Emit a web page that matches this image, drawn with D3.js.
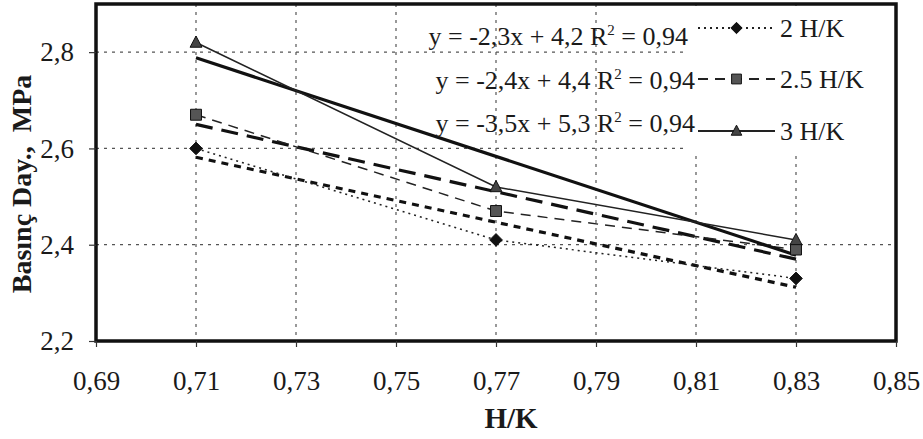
<!DOCTYPE html>
<html>
<head>
<meta charset="utf-8">
<script src="https://cdn.jsdelivr.net/npm/d3@7"></script>
<style>
  body { margin: 0; background: #fff; }
  svg { display: block; font-family: "Liberation Serif", "Times New Roman", serif; }
</style>
</head>
<body>
<svg id="chart" width="923" height="439"></svg>
<script>
// values
const hkValues = [0.71, 0.77, 0.83];
const seriesNames = ["2 H/K", "2.5 H/K", "3 H/K"];
const pressure2 = [2.60, 2.41, 2.33];
const pressure25 = [2.67, 2.47, 2.39];
const pressure3 = [2.82, 2.52, 2.41];
const equationTexts = ["y = -2,3x + 4,2 R", "y = -2,4x + 4,4 R", "y = -3,5x + 5,3 R"];
const rSquaredTexts = ["0,94", "0,94", "0,94"];
const xTicks = [0.69, 0.71, 0.73, 0.75, 0.77, 0.79, 0.81, 0.83, 0.85];
const yTicks = [2.2, 2.4, 2.6, 2.8];

const width = 923, height = 439;
const plot = { left: 96, right: 896, top: 4, bottom: 341 };

const svg = d3.select("#chart");

const x = d3.scaleLinear().domain([0.69, 0.85]).range([plot.left, plot.right]);
const y = d3.scaleLinear().domain([2.2, 2.9]).range([plot.bottom, plot.top]);

// marker shapes like the excel ones
const diamond = { draw(ctx, size) { const r = Math.sqrt(size) / 2; ctx.moveTo(0, -r); ctx.lineTo(r, 0); ctx.lineTo(0, r); ctx.lineTo(-r, 0); ctx.closePath(); } };
const square = { draw(ctx, size) { const r = Math.sqrt(size) / 2; ctx.rect(-r, -r, 2 * r, 2 * r); } };
const triangle = { draw(ctx, size) { const r = Math.sqrt(size) / 2; ctx.moveTo(0, -r * 1.1); ctx.lineTo(r, r * 0.8); ctx.lineTo(-r, r * 0.8); ctx.closePath(); } };

const series = [
  { name: seriesNames[0], values: pressure2, symbol: diamond, size: 160, fill: "#111", dash: "2,4", trendDash: "7,6", eq: equationTexts[0], r2: rSquaredTexts[0] },
  { name: seriesNames[1], values: pressure25, symbol: square, size: 120, fill: "#555", dash: "10,7", trendDash: "17,9", eq: equationTexts[1], r2: rSquaredTexts[1] },
  { name: seriesNames[2], values: pressure3, symbol: triangle, size: 140, fill: "#444", dash: null, trendDash: null, eq: equationTexts[2], r2: rSquaredTexts[2] }
];

// least squares trend
const fit = vals => {
  const mx = d3.mean(hkValues), my = d3.mean(vals);
  const sxy = d3.sum(hkValues, (v, i) => (v - mx) * (vals[i] - my));
  const sxx = d3.sum(hkValues, v => (v - mx) * (v - mx));
  const b = sxy / sxx;
  return xv => my + b * (xv - mx);
};

// grid
const gridG = svg.append("g").attr("stroke", "#555").attr("stroke-width", 1.2).attr("stroke-dasharray", "3,5");
gridG.selectAll(".hgrid").data(yTicks.filter(d => d > 2.2)).enter().append("line")
  .attr("x1", plot.left).attr("x2", plot.right)
  .attr("y1", d => y(d)).attr("y2", d => y(d));
gridG.selectAll(".vgrid").data(xTicks.filter(d => d > 0.69 && d < 0.85)).enter().append("line")
  .attr("x1", d => x(d)).attr("x2", d => x(d))
  .attr("y1", plot.top).attr("y2", plot.bottom);

// legend box hides the grid behind it
const legend = { x: 688, y: 6, w: 204, h: 146, lineX1: 698, lineX2: 775, textX: 780, rows: [28, 79, 131] };
svg.append("rect")
  .attr("x", legend.x).attr("y", legend.y)
  .attr("width", legend.w).attr("height", legend.h)
  .attr("fill", "#fff");

// series lines and trendlines
const lineGen = d3.line().x((d, i) => x(hkValues[i])).y(d => y(d));
series.forEach(s => {
  const t = fit(s.values);
  svg.append("line")
    .attr("x1", x(hkValues[0])).attr("y1", y(t(hkValues[0])))
    .attr("x2", x(hkValues[2])).attr("y2", y(t(hkValues[2])))
    .attr("stroke", "#111").attr("stroke-width", 3.2)
    .attr("stroke-dasharray", s.trendDash);
  svg.append("path")
    .attr("d", lineGen(s.values))
    .attr("fill", "none").attr("stroke", "#222").attr("stroke-width", 1.5)
    .attr("stroke-dasharray", s.dash);
});
series.forEach(s => {
  svg.selectAll(null).data(s.values).enter().append("path")
    .attr("transform", (d, i) => `translate(${x(hkValues[i])},${y(d)})`)
    .attr("d", d3.symbol().type(s.symbol).size(s.size))
    .attr("fill", s.fill).attr("stroke", "#111").attr("stroke-width", 1);
});

// frame
svg.append("rect")
  .attr("x", plot.left).attr("y", plot.top)
  .attr("width", plot.right - plot.left).attr("height", plot.bottom - plot.top)
  .attr("fill", "none").attr("stroke", "#111").attr("stroke-width", 3.5);

// axes
const xAxis = d3.axisBottom(x).tickValues(xTicks).tickSize(6).tickPadding(24)
  .tickFormat(d => d3.format(".2f")(d).replace(".", ","));
const yAxis = d3.axisLeft(y).tickValues(yTicks).tickSize(7).tickPadding(15)
  .tickFormat(d => d3.format(".1f")(d).replace(".", ","));

const xg = svg.append("g").attr("transform", `translate(0,${plot.bottom})`).call(xAxis);
const yg = svg.append("g").attr("transform", `translate(${plot.left},0)`).call(yAxis);
[xg, yg].forEach(g => {
  g.select(".domain").remove();
  g.selectAll(".tick line").attr("stroke", "#333").attr("stroke-width", 1.2);
  g.selectAll("text").attr("font-family", "Liberation Serif, serif").attr("font-size", 27).attr("fill", "#1a1a1a");
});
xg.selectAll("text").attr("dy", "0.71em");

// axis titles
svg.append("text")
  .attr("x", 511).attr("y", 428)
  .attr("text-anchor", "middle").attr("font-weight", "bold").attr("font-size", 29).attr("fill", "#1a1a1a")
  .text("H/K");
svg.append("text")
  .attr("transform", "translate(31,184) rotate(-90)")
  .attr("text-anchor", "middle").attr("font-weight", "bold").attr("font-size", 28).attr("fill", "#1a1a1a")
  .text("Basınç Day.,\u00a0\u00a0MPa");

// legend entries
series.forEach((s, i) => {
  const cy = legend.rows[i];
  svg.append("line")
    .attr("x1", legend.lineX1).attr("x2", legend.lineX2)
    .attr("y1", cy).attr("y2", cy)
    .attr("stroke", "#222").attr("stroke-width", 1.8)
    .attr("stroke-dasharray", s.dash);
  svg.append("path")
    .attr("transform", `translate(${(legend.lineX1 + legend.lineX2) / 2},${cy})`)
    .attr("d", d3.symbol().type(s.symbol).size(s.size * 0.8))
    .attr("fill", s.fill).attr("stroke", "#111");
  svg.append("text")
    .attr("x", legend.textX).attr("y", cy + 9)
    .attr("font-size", 26).attr("fill", "#1a1a1a")
    .text(s.name);
});

// trendline equations
const eqRows = [45, 89, 132];
const eqRight = [688, 695, 695];
series.forEach((s, i) => {
  const t = svg.append("text")
    .attr("x", eqRight[i]).attr("y", eqRows[i])
    .attr("text-anchor", "end").attr("font-size", 26).attr("fill", "#1a1a1a");
  t.append("tspan").text(s.eq);
  t.append("tspan").attr("dy", -10).attr("font-size", 15).text("2");
  t.append("tspan").attr("dy", 10).text(" = " + s.r2);
});
</script>
</body>
</html>
